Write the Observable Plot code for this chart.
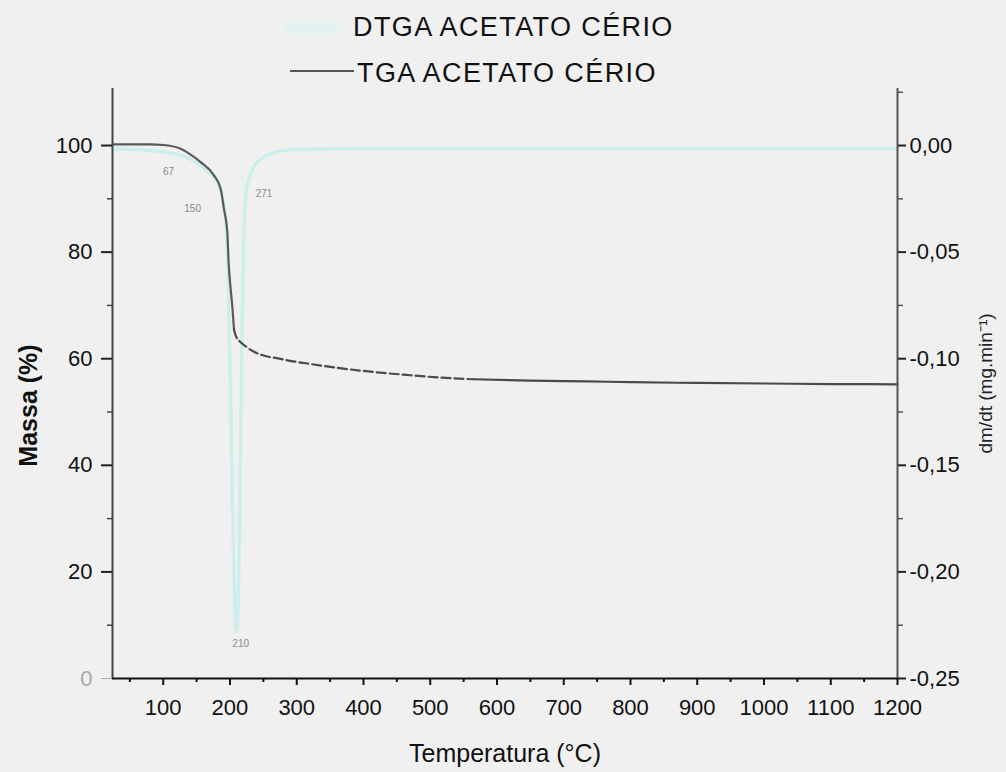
<!DOCTYPE html>
<html><head><meta charset="utf-8">
<script src="https://cdn.jsdelivr.net/npm/d3@7"></script>
<script src="https://cdn.jsdelivr.net/npm/@observablehq/plot@0.6"></script>
<style>
body{margin:0;background:#f0f0f0;font-family:"Liberation Sans",Arial,sans-serif;}
#legend{position:relative;width:1006px;height:84px;}
#legend .t{position:absolute;font-size:27px;line-height:27px;letter-spacing:1.4px;color:#111;white-space:nowrap;}
#legend .sw{position:absolute;}
#chart svg{display:block;}
</style></head><body>
<div id="legend"></div>
<div id="chart"></div>
<script>
// ---- data ----
const tgaTemp = [24,50,80,100,126,140,156,176,186,191,196,198,201,204,206,209,216,225,236,250,270,286,316,360,416,470,516,565,650,736,800,900,1000,1100,1200];
const tgaMass = [100.2,100.2,100.2,100.1,99.4,98.4,96.9,94.4,91.9,88.1,83.7,78,73.1,69,65.5,64.2,63.1,62.2,61.3,60.6,60.1,59.7,59.1,58.3,57.5,56.9,56.45,56.15,55.9,55.75,55.6,55.45,55.35,55.25,55.2];
const dtgTemp = [24,67,100,130,150,170,185,192,197,201,205,210,214,217,220,225,240,271,300,400,600,800,1000,1200];
const dtgValue = [-0.0015,-0.002,-0.003,-0.005,-0.008,-0.013,-0.02,-0.03,-0.06,-0.12,-0.19,-0.228,-0.19,-0.11,-0.05,-0.02,-0.008,-0.003,-0.0018,-0.0015,-0.0015,-0.0015,-0.0015,-0.0015];
const peakLabels = ["67","150","271","210"];
const peakTemp = [108,144,251,216];
const peakMass = [95.1,88.2,90.9,6.6];
const massTicks = [20,40,60,80,100];
const massMinor = [10,30,50,70,90];
const tempTicks = [100,200,300,400,500,600,700,800,900,1000,1100,1200];
const tempMinor = [50,150,250,350,450,550,650,750,850,950,1050,1150];
const dtgTicks = [0,-0.05,-0.10,-0.15,-0.20,-0.25];
const dtgMinor = [0.025,-0.025,-0.075,-0.125,-0.175,-0.225];
const seriesNames = ["DTGA ACETATO CÉRIO","TGA ACETATO CÉRIO"];
const xTitle = "Temperatura (°C)";
const yTitle = "Massa (%)";
const y2Title = "dm/dt (mg.min⁻¹)";

// ---- build ----
const toMass = v => 100 + 400 * v;
const tga = tgaTemp.map((t, i) => ({t, m: tgaMass[i]}));
const dtg = dtgTemp.map((t, i) => ({t, v: dtgValue[i]}));
const peaks = peakLabels.map((s, i) => ({s, t: peakTemp[i], m: peakMass[i]}));
const fmt = d3.formatLocale({decimal: ",", thousands: ".", grouping: [3], currency: ["", ""], minus: "-"}).format(".2f");

const legend = document.getElementById("legend");
legend.innerHTML =
  `<div class="sw" style="left:284px;top:22px;width:58px;height:12px;background:#e4f3f1"></div>` +
  `<div class="t" style="left:353px;top:14px">${seriesNames[0]}</div>` +
  `<div class="sw" style="left:290px;top:70px;width:64px;height:2px;background:#555"></div>` +
  `<div class="t" style="left:357px;top:60px">${seriesNames[1]}</div>`;

const tgaSolid1 = tga.filter(d => d.t <= 206);
const tgaDash = tga.filter(d => d.t >= 206 && d.t <= 565);
const tgaSolid2 = tga.filter(d => d.t >= 565);

const chart = Plot.plot({
  width: 1006, height: 688,
  marginLeft: 112, marginRight: 109, marginTop: 4, marginBottom: 94,
  style: {background: "transparent", fontFamily: "Liberation Sans, Arial, sans-serif", fontSize: "22px", color: "#111"},
  x: {domain: [24, 1200]},
  y: {domain: [0, 110.7]},
  marks: [
    Plot.line(dtg, {x: "t", y: d => toMass(d.v), stroke: "#cdefec", strokeWidth: 3.5, curve: "monotone-x"}),
    Plot.line(tgaSolid1, {x: "t", y: "m", stroke: "#5a5a5a", strokeWidth: 2.2, curve: "monotone-x"}),
    Plot.line(tgaDash, {x: "t", y: "m", stroke: "#4a4a4a", strokeWidth: 2.2, strokeDasharray: "9,4", curve: "monotone-x"}),
    Plot.line(tgaSolid2, {x: "t", y: "m", stroke: "#4a4a4a", strokeWidth: 2.2, curve: "monotone-x"}),
    Plot.text(peaks, {x: "t", y: "m", text: "s", fontSize: 10, fill: "#8a8a8a"}),
    // axis lines
    Plot.ruleX([24], {stroke: "#444", strokeWidth: 2}),
    Plot.ruleX([1200], {stroke: "#555", strokeWidth: 2}),
    Plot.ruleY([0], {stroke: "#111", strokeWidth: 2}),
    // left axis
    Plot.axisY({ticks: massTicks, tickSize: 11, tickPadding: 9, label: null, tickFormat: d => String(d), stroke: "#222", strokeWidth: 2}),
    Plot.axisY({ticks: [0], tickSize: 11, tickPadding: 9, label: null, tickFormat: d => String(d), color: "#aaa"}),
    Plot.axisY({ticks: massMinor, tickSize: 5, tickPadding: 0, label: null, tickFormat: () => "", stroke: "#444", strokeWidth: 1.5}),
    // right axis
    Plot.axisY({anchor: "right", ticks: dtgTicks.map(toMass), tickSize: 8, tickPadding: 4, label: null, tickFormat: m => fmt((m - 100) / 400), stroke: "#222", strokeWidth: 2}),
    Plot.axisY({anchor: "right", ticks: dtgMinor.map(toMass), tickSize: 5, tickPadding: 0, label: null, tickFormat: () => "", stroke: "#555", strokeWidth: 1.5}),
    // bottom axis
    Plot.axisX({ticks: tempTicks, tickSize: 7, tickPadding: 14, label: null, tickFormat: d => String(d), stroke: "#111", strokeWidth: 2}),
    Plot.axisX({ticks: tempMinor, tickSize: 4, tickPadding: 0, label: null, tickFormat: () => "", stroke: "#111", strokeWidth: 2}),
    // titles
    Plot.text([xTitle], {frameAnchor: "bottom", dy: 75, textAnchor: "middle", lineAnchor: "middle", fontSize: 25, letterSpacing: "0.8px", fill: "#111"}),
    Plot.text([yTitle], {frameAnchor: "left", dx: -84, dy: 22, rotate: -90, textAnchor: "middle", lineAnchor: "middle", fontSize: 25, fontWeight: "bold", fill: "#111"}),
    Plot.text([y2Title], {frameAnchor: "right", dx: 88, dy: 0, rotate: -90, textAnchor: "middle", lineAnchor: "middle", fontSize: 19, fill: "#222"})
  ]
});
document.getElementById("chart").appendChild(chart);
</script>
</body></html>
